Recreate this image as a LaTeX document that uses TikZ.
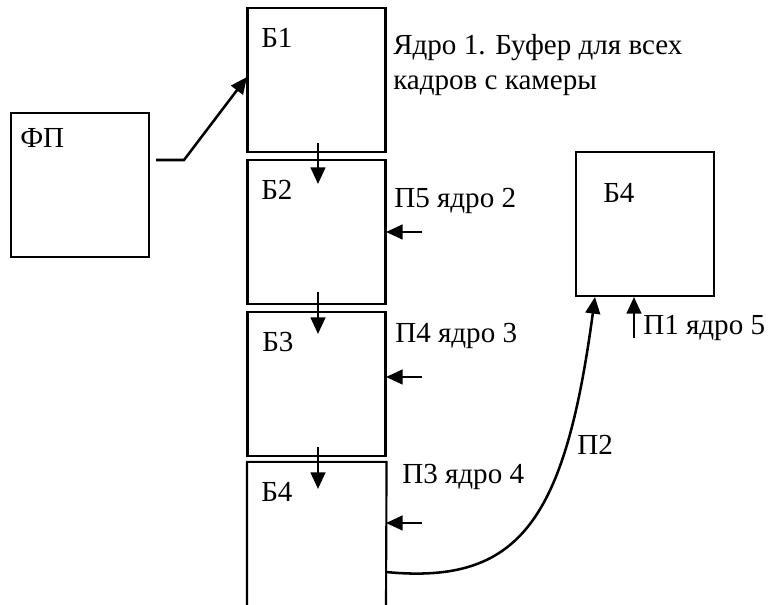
\documentclass[tikz,border=0pt]{standalone}
\usepackage{fontspec}
\setmainfont{Liberation Serif}
\usetikzlibrary{arrows.meta,calc}
\begin{document}
\begin{tikzpicture}[x=0.75pt,y=-0.75pt,
  blk/.style={draw,line width=1.6pt,minimum width=103.5pt,minimum height=108pt,inner sep=0pt},
  lbl/.style={anchor=base west,inner sep=0pt,font=\fontsize{21.8}{27}\selectfont},
  arr/.style={line width=1.9pt,-{Triangle[length=12.5pt,width=11pt]}},
  link/.style={line width=1.6pt}]
\useasboundingbox (0,0) rectangle (776,605);

% blocks
\node[blk] (fp) at (80,185) {};
\node[blk] (b1) at (316.5,80) {};
\node[blk] (b2) at (316.5,232) {};
\node[blk] (b3) at (316.5,384) {};
\node[blk,draw=none] (b4) at (316.5,535) {};
\node[blk] (b4r) at (645,224) {};
% last block of the column runs off the bottom edge
\draw[link] (247,606) |- (b4.north east) -- (386,606);

% block titles
\node[lbl] (tfp) at (20,148) {ФП};
\node[lbl] (tb1) at (261,48) {Б1};
\node[lbl] (tb2) at (261,200) {Б2};
\node[lbl] (tb3) at (262,352) {Б3};
\node[lbl] (tb4) at (261,502) {Б4};
\node[lbl] (tb4r) at (603,203) {Б4};

% side notes
\node[lbl] (n1a) at (393,55) {Ядро 1. Буфер для всех};
\node[lbl] (n1b) at (393,90) {кадров с камеры};
\node[lbl] (n2) at (394,208) {П5 ядро 2};
\node[lbl] (n3) at (395,343) {П4 ядро 3};
\node[lbl] (n4) at (402,484) {П3 ядро 4};
\node[lbl] (n5) at (643,335) {П1 ядро 5};
\node[lbl] (n6) at (577,455) {П2};

% input from ФП into Б1
\coordinate (fpout) at (156,160);
\coordinate (fpbend) at (184,160);
\coordinate (b1in) at (247,77);
\draw[arr] (fpout) -- (fpbend) -- (b1in);

% chain Б1 -> Б2 -> Б3 -> Б4
\coordinate (d1s) at (318,143); \coordinate (d1e) at (318,184);
\coordinate (d2s) at (318,292); \coordinate (d2e) at (318,334);
\coordinate (d3s) at (318,447); \coordinate (d3e) at (318,489);
\draw[arr] (d1s) -- (d1e);
\draw[arr] (d2s) -- (d2e);
\draw[arr] (d3s) -- (d3e);

% side inputs
\coordinate (p5) at (422,232); \coordinate (p5e) at (386,232);
\coordinate (p4) at (422,377); \coordinate (p4e) at (386,377);
\coordinate (p3) at (422,523); \coordinate (p3e) at (386,523);
\draw[arr] (p5) -- (p5e);
\draw[arr] (p4) -- (p4e);
\draw[arr] (p3) -- (p3e);

% П2: Б4 -> right Б4, and П1 input
\coordinate (c0) at (386,572);
\coordinate (c1) at (595,297);
\draw[arr] (c0) .. controls (520,585) and (565,520) .. (c1);
\coordinate (p1) at (634,338); \coordinate (p1e) at (634,297);
\draw[arr] (p1) -- (p1e);
\end{tikzpicture}
\end{document}
